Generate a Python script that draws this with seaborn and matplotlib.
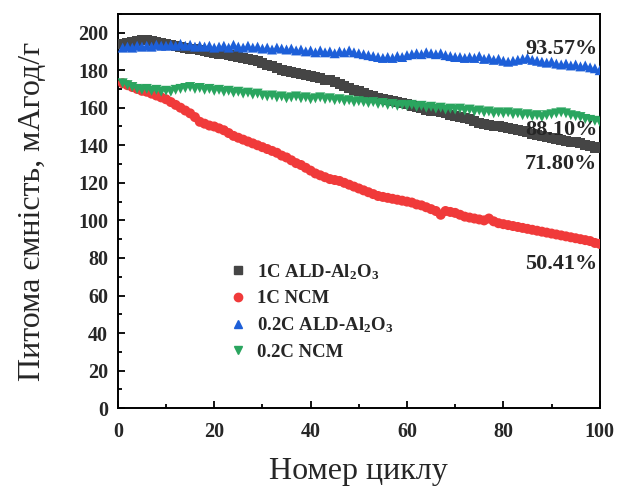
import matplotlib
matplotlib.use("Agg")
import matplotlib.pyplot as plt
import seaborn as sns
import pandas as pd
from matplotlib.lines import Line2D
from matplotlib.ticker import MultipleLocator

cycles = list(range(1, 101))

al2o3_1c = [194, 194.5, 195, 195.5, 196, 196, 195.5, 195, 194.5, 194,
            193.5, 193, 192.5, 192, 191.5, 191, 190.5, 190, 189.5, 189,
            188.5, 188.5, 188, 187.5, 187, 186.5, 186, 185.5, 185, 184,
            183, 182, 181, 180, 179.5, 179, 178.5, 178, 177.5, 177,
            176.5, 176, 175, 174.5, 173.5, 172.5, 171.5, 170.5, 169.5, 169,
            168, 167, 166, 165, 164.5, 164, 163.5, 163, 162.5, 162,
            161, 160.5, 160, 159, 158.5, 158, 157.5, 157, 156, 155.5,
            155, 154.5, 154, 153, 152, 151.5, 151, 150.5, 150, 149.5,
            149, 148.5, 148, 147.5, 147, 146, 145.5, 145, 144.5, 144,
            143.5, 143, 142.5, 142, 141.5, 141, 140, 139.5, 138.5, 139]

ncm_1c = [173, 172, 171, 170, 169, 168.5, 167.5, 166.5, 165.5, 164.5,
          163, 161.5, 160, 158.5, 157, 155, 152.5, 151.5, 150.5, 150,
          149, 148, 146.5, 145, 144, 143, 142, 141, 140, 139,
          138, 137, 136, 134.5, 133.5, 132, 130.5, 129.5, 128, 126.5,
          125, 124, 123, 122, 121.5, 121, 120, 119, 118, 117,
          116, 115, 114, 113, 112.5, 112, 111.5, 111, 110.5, 110,
          109.5, 108.5, 108, 107, 106, 105, 103, 105, 104.5, 104,
          103, 102, 101.5, 101, 100.5, 100, 101, 99.5, 98.5, 98,
          97.5, 97, 96.5, 96, 95.5, 95, 94.5, 94, 93.5, 93,
          92.5, 92, 91.5, 91, 90.5, 90, 89.5, 89, 88, 87.5]

al2o3_02c = [192, 192.5, 192, 193, 192.5, 193, 192.5, 193.5, 193, 193,
             193.5, 193, 194, 193, 193.5, 192.5, 193, 192.5, 193, 192,
             192.5, 193, 192, 193.5, 192.5, 192, 193, 192, 192.5, 191.5,
             192, 191, 192, 191.5, 191, 191.5, 190.5, 191, 190, 190.5,
             189.5, 190.5, 189.5, 190, 189, 190, 189.5, 190.5, 189.5, 189,
             188.5, 188, 187.5, 187, 186.5, 187, 186.5, 187.5, 187, 188,
             188.5, 189, 188.5, 189.5, 189, 188.5, 189, 188, 187.5, 187,
             187, 186.5, 187, 186.5, 187.5, 186, 186.5, 185.5, 186, 185,
             184.5, 185, 185.5, 186, 186.5, 185.5, 185, 184.5, 184, 184.5,
             183.5, 183, 183.5, 182.5, 183, 182, 182.5, 181.5, 181, 180]

ncm_02c = [173, 172, 171, 170, 169.5, 170, 169, 169.5, 168.5, 169,
           168.5, 169.5, 170, 170.5, 171, 170, 170.5, 169.5, 170, 169,
           169.5, 168.5, 169, 168, 168.5, 167.5, 168, 167, 167.5, 166.5,
           166, 166.5, 165.5, 166, 165, 165.5, 166, 165, 165.5, 164.5,
           165, 165.5, 164.5, 165, 164, 164.5, 163.5, 164, 163, 163.5,
           163, 162.5, 163, 162, 162.5, 161.5, 162, 161, 161.5, 161,
           161.5, 160.5, 161, 160, 160.5, 159.5, 160, 159, 159.5, 159,
           159.5, 158.5, 159, 158, 158.5, 157.5, 158, 157, 157.5, 157,
           157.5, 156.5, 157, 156, 156.5, 155.5, 156, 155, 156, 156.5,
           157, 157.5, 157, 156, 155.5, 155, 154, 153.5, 153, 152.5]

series_names = ["1C ALD-Al$_2$O$_3$", "1C NCM",
                "0.2C ALD-Al$_2$O$_3$", "0.2C NCM"]
series_values = [al2o3_1c, ncm_1c, al2o3_02c, ncm_02c]
series_colors = ["#454545", "#f03a3a", "#1d5fd8", "#2aa55f"]
series_markers = ["s", "o", "^", "v"]

retention_labels = ["93.57%", "88.10%", "71.80%", "50.41%"]
retention_y = [191.5, 148, 130, 77]

frames = [pd.DataFrame({"cycle": cycles, "capacity": vals, "sample": name})
          for name, vals in zip(series_names, series_values)]
df = pd.concat(frames, ignore_index=True)

sns.set_style("ticks")
plt.rcParams["font.family"] = ["Liberation Serif", "DejaVu Serif"]
plt.rcParams["mathtext.fontset"] = "custom"
plt.rcParams["mathtext.rm"] = "Liberation Serif:bold"
plt.rcParams["mathtext.default"] = "rm"

fig = plt.figure(figsize=(6.17, 4.93), dpi=100)
ax = fig.add_axes([0.191, 0.172, 0.781, 0.800])

sns.scatterplot(data=df, x="cycle", y="capacity", hue="sample", style="sample",
                hue_order=series_names, style_order=series_names,
                palette=series_colors, markers=series_markers,
                s=52, linewidth=0, ax=ax, legend=False, zorder=3)

ax.set_xlim(0, 100)
ax.set_ylim(0, 210)
ax.xaxis.set_major_locator(MultipleLocator(20))
ax.xaxis.set_minor_locator(MultipleLocator(10))
ax.yaxis.set_major_locator(MultipleLocator(20))
ax.yaxis.set_minor_locator(MultipleLocator(10))
ax.tick_params(which="both", direction="in", top=False, right=False,
               width=1.3, color="black")
ax.tick_params(which="major", length=5, labelsize=14.5)
ax.tick_params(which="minor", length=3)
ax.tick_params(axis="y", which="major", pad=7)
ax.tick_params(axis="x", which="major", pad=10)
for lab in ax.get_xticklabels() + ax.get_yticklabels():
    lab.set_fontweight("bold")
for sp in ax.spines.values():
    sp.set_linewidth(1.4)
    sp.set_color("black")

ax.set_xlabel("Номер циклу", fontsize=23, labelpad=11)
ax.set_ylabel("Питома ємність, мАгод/г", fontsize=23, labelpad=22)

for txt, yv in zip(retention_labels, retention_y):
    ax.text(92, yv, txt, ha="center", va="center", fontsize=16,
            fontweight="bold", zorder=4)

handles = [Line2D([], [], linestyle="none", marker=m, color=c, markersize=6)
           for m, c in zip(series_markers, series_colors)]
leg = ax.legend(handles, series_names, loc="upper left",
                bbox_to_anchor=(0.215, 0.39), frameon=False,
                prop={"weight": "bold", "size": 13.5}, handletextpad=0.5,
                labelspacing=0.45, borderaxespad=0, handlelength=1.0)

fig.savefig("out.png", dpi=100)
